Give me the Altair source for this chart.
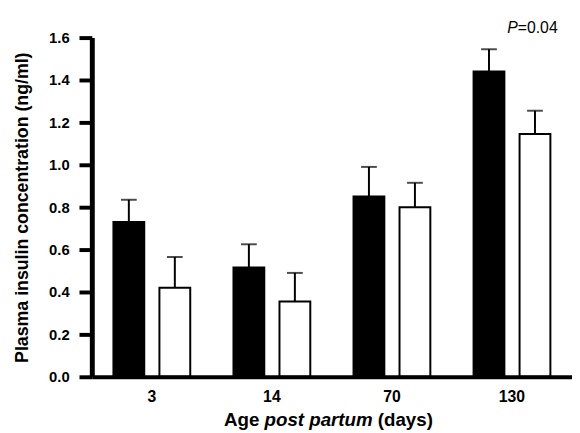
import altair as alt
import pandas as pd

ages = ["3", "14", "70", "130"]
group_names = ["A", "B"]
mean_a = [0.73, 0.515, 0.85, 1.44]
sem_a = [0.105, 0.11, 0.14, 0.105]
mean_b = [0.42, 0.355, 0.80, 1.145]
sem_b = [0.145, 0.135, 0.115, 0.11]
y_ticks = [0.0, 0.2, 0.4, 0.6, 0.8, 1.0, 1.2, 1.4, 1.6]

rows = []
for i, age in enumerate(ages):
    rows.append({"age": age, "grp": "A", "mean": mean_a[i], "upper": mean_a[i] + sem_a[i]})
    rows.append({"age": age, "grp": "B", "mean": mean_b[i], "upper": mean_b[i] + sem_b[i]})
df = pd.DataFrame(rows)

FONT = "Liberation Sans"

x_enc = alt.X("age:N", sort=ages,
              scale=alt.Scale(paddingInner=0, paddingOuter=0, align=0),
              axis=alt.Axis(title=None, labelAngle=0, ticks=False, tickSize=0,
                            labelPadding=12, labelFont=FONT, labelFontSize=16,
                            labelFontWeight="bold", labelColor="black",
                            domainColor="black", domainWidth=4, grid=False, zindex=1))
xo_enc = alt.XOffset("grp:N", sort=group_names,
                     scale=alt.Scale(paddingInner=0.33, paddingOuter=0.47))
y_scale = alt.Scale(domain=[0, 1.6], nice=False, zero=True)

base = alt.Chart(df)

bars = base.mark_bar(stroke="black", strokeWidth=2).encode(
    x=x_enc,
    xOffset=xo_enc,
    y=alt.Y("mean:Q", scale=y_scale,
            axis=alt.Axis(values=y_ticks, format=".1f", title="Plasma insulin concentration (ng/ml)",
                          labelFont=FONT, labelFontSize=15, labelFontWeight="bold",
                          labelColor="black", labelPadding=10,
                          tickSize=13, tickWidth=4, tickColor="black",
                          domainColor="black", domainWidth=5, grid=False, zindex=1,
                          titleFont=FONT, titleFontSize=18, titleFontWeight="bold",
                          titleColor="black", titleBaseline="bottom",
                          titleX=-61, titleY=172, titleAngle=270)),
    fill=alt.Fill("grp:N", scale=alt.Scale(domain=group_names, range=["black", "white"]),
                  legend=None),
)

err = base.mark_rule(color="black", strokeWidth=2).encode(
    x=x_enc, xOffset=xo_enc,
    y=alt.Y("mean:Q", scale=y_scale), y2="upper:Q",
)

caps = base.mark_tick(color="black", thickness=2, size=16).encode(
    x=x_enc, xOffset=xo_enc,
    y=alt.Y("upper:Q", scale=y_scale),
)

txt_df = pd.DataFrame([{"a": 1}])
def label(text, x, y, align, size, style="normal", weight="bold"):
    return alt.Chart(txt_df).mark_text(
        text=text, align=align, baseline="alphabetic", font=FONT, fontSize=size,
        fontStyle=style, fontWeight=weight, color="black"
    ).encode(x=alt.value(x), y=alt.value(y))

t1 = label("Age", 170, 394, "right", 19)
t2 = label("post partum", 230, 394, "center", 19, style="italic")
t3 = label("(days)", 290, 394, "left", 19)
p1 = label("P", 432, -5, "right", 16, style="italic", weight="normal")
p2 = label("=0.04", 432, -5, "left", 16, weight="normal")

chart = alt.layer(err, bars, caps, t1, t2, t3, p1, p2).properties(
    width=487, height=344,
    autosize=alt.AutoSizeParams(type="none"),
    padding={"left": 85, "top": 27, "right": 0, "bottom": 54},
).configure_view(stroke=None)

chart.save("out.html", embed_options={"renderer": "svg", "actions": False})
